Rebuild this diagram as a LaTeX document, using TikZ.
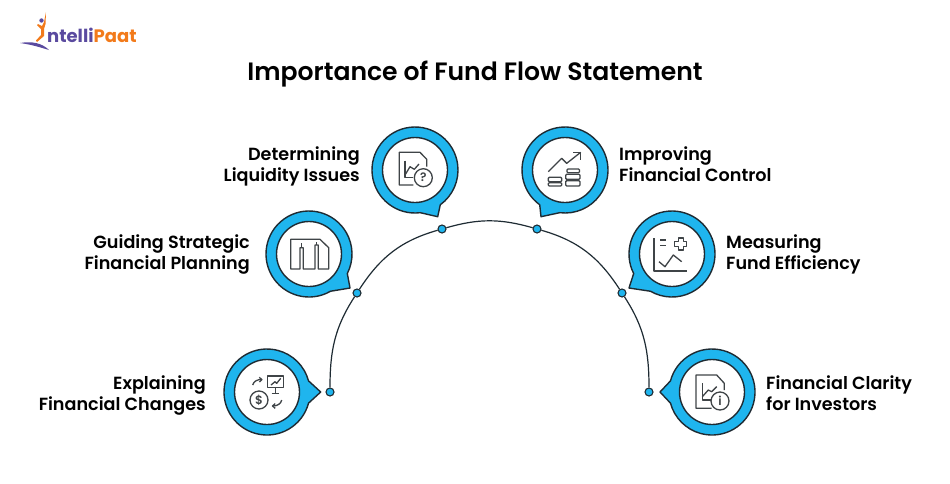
\documentclass[tikz,border=0pt]{standalone}
\usepackage{fontspec}
\setmainfont{Poppins}[UprightFont=* SemiBold,BoldFont=* Bold]
\usepackage{tikz}
\definecolor{ringblue}{HTML}{1FB5EE}
\definecolor{inkdark}{HTML}{1E2B33}
\definecolor{icongray}{HTML}{3F4447}
\definecolor{logopurple}{HTML}{5A4A9F}
\definecolor{logoorange}{HTML}{F27A1A}

\begin{document}
\begin{tikzpicture}[
  x=1pt, y=-1pt,
  bubble/.style={fill=ringblue, draw=inkdark, line width=1.4pt, line join=round},
  whitecore/.style={circle, fill=white, draw=inkdark, line width=1.4pt, minimum size=65pt, inner sep=0pt},
  dotport/.style={circle, fill=ringblue, draw=inkdark, line width=1.1pt, minimum size=8pt, inner sep=0pt},
  wire/.style={draw=inkdark, line width=1.2pt},
  textlabel/.style={font=\fontsize{17.6}{21}\selectfont, text=black, inner sep=0pt},
  iconline/.style={draw=icongray, line width=1.3pt, line join=round},
  badge/.style={circle, draw=icongray, line width=1.3pt, fill=white, minimum size=18pt, inner sep=0pt, text=icongray, font=\fontsize{12}{12}\selectfont}
]
\useasboundingbox (0,0) rectangle (950,483);

% Logo
\fill[logopurple] (20,43) .. controls (32,41) and (42,43) .. (49,50) .. controls (42,48) and (34,45) .. (20,43) -- cycle;
\fill[logoorange] (46,12) -- (45.5,24) -- (44,29) -- (44,36) -- (37,42) -- (36,40.5) -- (41,35) -- (41,29) -- (37,25) -- (38,24) -- (42,26) -- (44,22) -- cycle;
\fill[logopurple] (41.5,20.5) circle[radius=2.2];
\node[anchor=base west, inner sep=0pt, font=\fontsize{18}{18}\selectfont\bfseries] (logotext) at (47,42) {\textcolor{logopurple}{ntelli}\textcolor{logoorange}{Paat}};

% Title
\node[font=\fontsize{25.1}{28}\selectfont, text=black, inner sep=0pt] (title) at (475,74) {Importance of Fund Flow Statement};

% Arc
\node[dotport] (D1) at (330,392) {};
\node[dotport] (D2) at (357,293) {};
\node[dotport] (D3) at (442,229) {};
\node[dotport] (D4) at (537,229) {};
\node[dotport] (D5) at (622,293) {};
\node[dotport] (D6) at (649,392) {};
\draw[wire] (D1) to[out=90,in=237] (D2);
\draw[wire] (D2) to[out=57,in=196] (D3);
\draw[wire] (D3) to[out=16,in=164] (D4);
\draw[wire] (D4) to[out=-16,in=123] (D5);
\draw[wire] (D5) to[out=-57,in=90] (D6);

% Speech bubbles
\draw[bubble] (267,392) ++(15:43) arc[start angle=15,end angle=345,radius=43] -- (320.7,392) -- cycle;
\draw[bubble] (309,254) ++(60:43) arc[start angle=60,end angle=387,radius=43] -- (350,288) -- cycle;
\draw[bubble] (415,170) ++(83:43) arc[start angle=83,end angle=414,radius=43] -- (437.7,216.7) -- cycle;
\draw[bubble] (565,170) ++(126:43) arc[start angle=126,end angle=457,radius=43] -- (541,216.7) -- cycle;
\draw[bubble] (672,254) ++(153:43) arc[start angle=153,end angle=480,radius=43] -- (629,288) -- cycle;
\draw[bubble] (712,392) ++(195:43) arc[start angle=195,end angle=525,radius=43] -- (660,392) -- cycle;

% White centres
\node[whitecore] (B1) at (267,392) {};
\node[whitecore] (B2) at (309,254) {};
\node[whitecore] (B3) at (415,170) {};
\node[whitecore] (B4) at (565,170) {};
\node[whitecore] (B5) at (672,254) {};
\node[whitecore] (B6) at (712,392) {};

% Labels
\node[textlabel, anchor=east, align=right] (L1) at (206,395.5) {Explaining\\Financial Changes};
\node[textlabel, anchor=east, align=right] (L2) at (250,254.5) {Guiding Strategic\\Financial Planning};
\node[textlabel, anchor=east, align=right] (L3) at (360,166.5) {Determining\\Liquidity Issues};
\node[textlabel, anchor=west, align=left] (L4) at (619,164) {Improving\\Financial Control};
\node[textlabel, anchor=west, align=left] (L5) at (726,254.5) {Measuring\\Fund Efficiency};
\node[textlabel, anchor=west, align=left] (L6) at (766,393.5) {Financial Clarity\\for Investors};

% Icon 1: chart and dollar
\draw[iconline] (267.3,376) rectangle (283.3,387.7);
\draw[iconline] (275.3,387.7) -- (275.3,392.7) (271.7,393.3) -- (279,393.3);
\draw[iconline] (271,385) -- (275,381.7) -- (276.7,383.3) -- (280.7,378.3);
\node[badge] (dollar) at (259,400) {\$};
\draw[iconline] (252.7,385) .. controls (254,381) and (257,379.5) .. (261.7,379.6);
\draw[iconline] (259.2,377.3) -- (261.9,379.6) -- (259.4,382);
\draw[iconline] (281.7,400) .. controls (281,404) and (277,406) .. (272.7,406);
\draw[iconline] (275.2,403.6) -- (272.5,406) -- (275.2,408.3);

% Icon 2: three columns
\draw[iconline] (290.7,239.3) -- (320,239.3) -- (328.7,247.7) -- (328.7,269) -- (318.3,269) -- (318.3,245) -- (315,245) -- (315,269) -- (303.3,269) -- (303.3,247.7) -- (300,247.7) -- (300,269) -- (290.7,269) -- cycle;
\draw[iconline] (301.7,247.7) -- (301.7,243);
\draw[iconline] (316.7,245) -- (316.7,242);

% Icon 3: report and question
\draw[iconline] (426.7,166.7) -- (426.7,159.3) -- (420,152.3) -- (399.3,152.3) -- (399.3,185) -- (413.3,185);
\draw[iconline] (405,160.7) -- (405,177.3) -- (413.3,177.3);
\draw[iconline] (405,175) -- (410,166.7) -- (414.3,169.3) -- (419,164);
\node[badge] (question) at (423.3,177.7) {?};

% Icon 4: rising arrow and coins
\draw[iconline] (548.3,171.7) -- (561.7,158.3) -- (566.7,163.3) -- (580.7,152.3);
\draw[iconline] (573.3,152.3) -- (580.7,152.3) -- (580.7,160);
\draw[iconline, rounded corners=1pt] (567,169) rectangle (579.5,172.8);
\draw[iconline, rounded corners=1pt] (565.7,174.3) rectangle (580,179.3);
\draw[iconline, rounded corners=1pt] (565.7,180.7) rectangle (580,186);
\draw[iconline, rounded corners=1pt] (548.3,177.3) rectangle (561.7,181.7);
\draw[iconline, rounded corners=1pt] (548.3,182.7) rectangle (561.7,186);

% Icon 5: graph and plus
\draw[iconline] (654,238.3) -- (654,271) -- (686.7,271);
\draw[iconline] (660,240) -- (666,240) (660,245.7) -- (666,245.7);
\draw[iconline] (678.2,238) -- (683.2,238) -- (683.2,241.5) -- (686.7,241.5) -- (686.7,246.5) -- (683.2,246.5) -- (683.2,250) -- (678.2,250) -- (678.2,246.5) -- (674.7,246.5) -- (674.7,241.5) -- (678.2,241.5) -- cycle;
\draw[iconline] (659,261.7) -- (665,266.7) -- (673.3,255) -- (681.7,261.7);

% Icon 6: report and info
\draw[iconline] (724.3,390) -- (724.3,383.3) -- (716.7,375) -- (696,375) -- (696,408.3) -- (711.7,408.3);
\draw[iconline] (702.3,383.3) -- (702.3,400) -- (710.7,400);
\draw[iconline] (702.3,396.7) -- (708.3,390) -- (711.7,391.7) -- (716.7,386.7);
\node[badge] (info) at (720,401) {i};

\end{tikzpicture}
\end{document}
